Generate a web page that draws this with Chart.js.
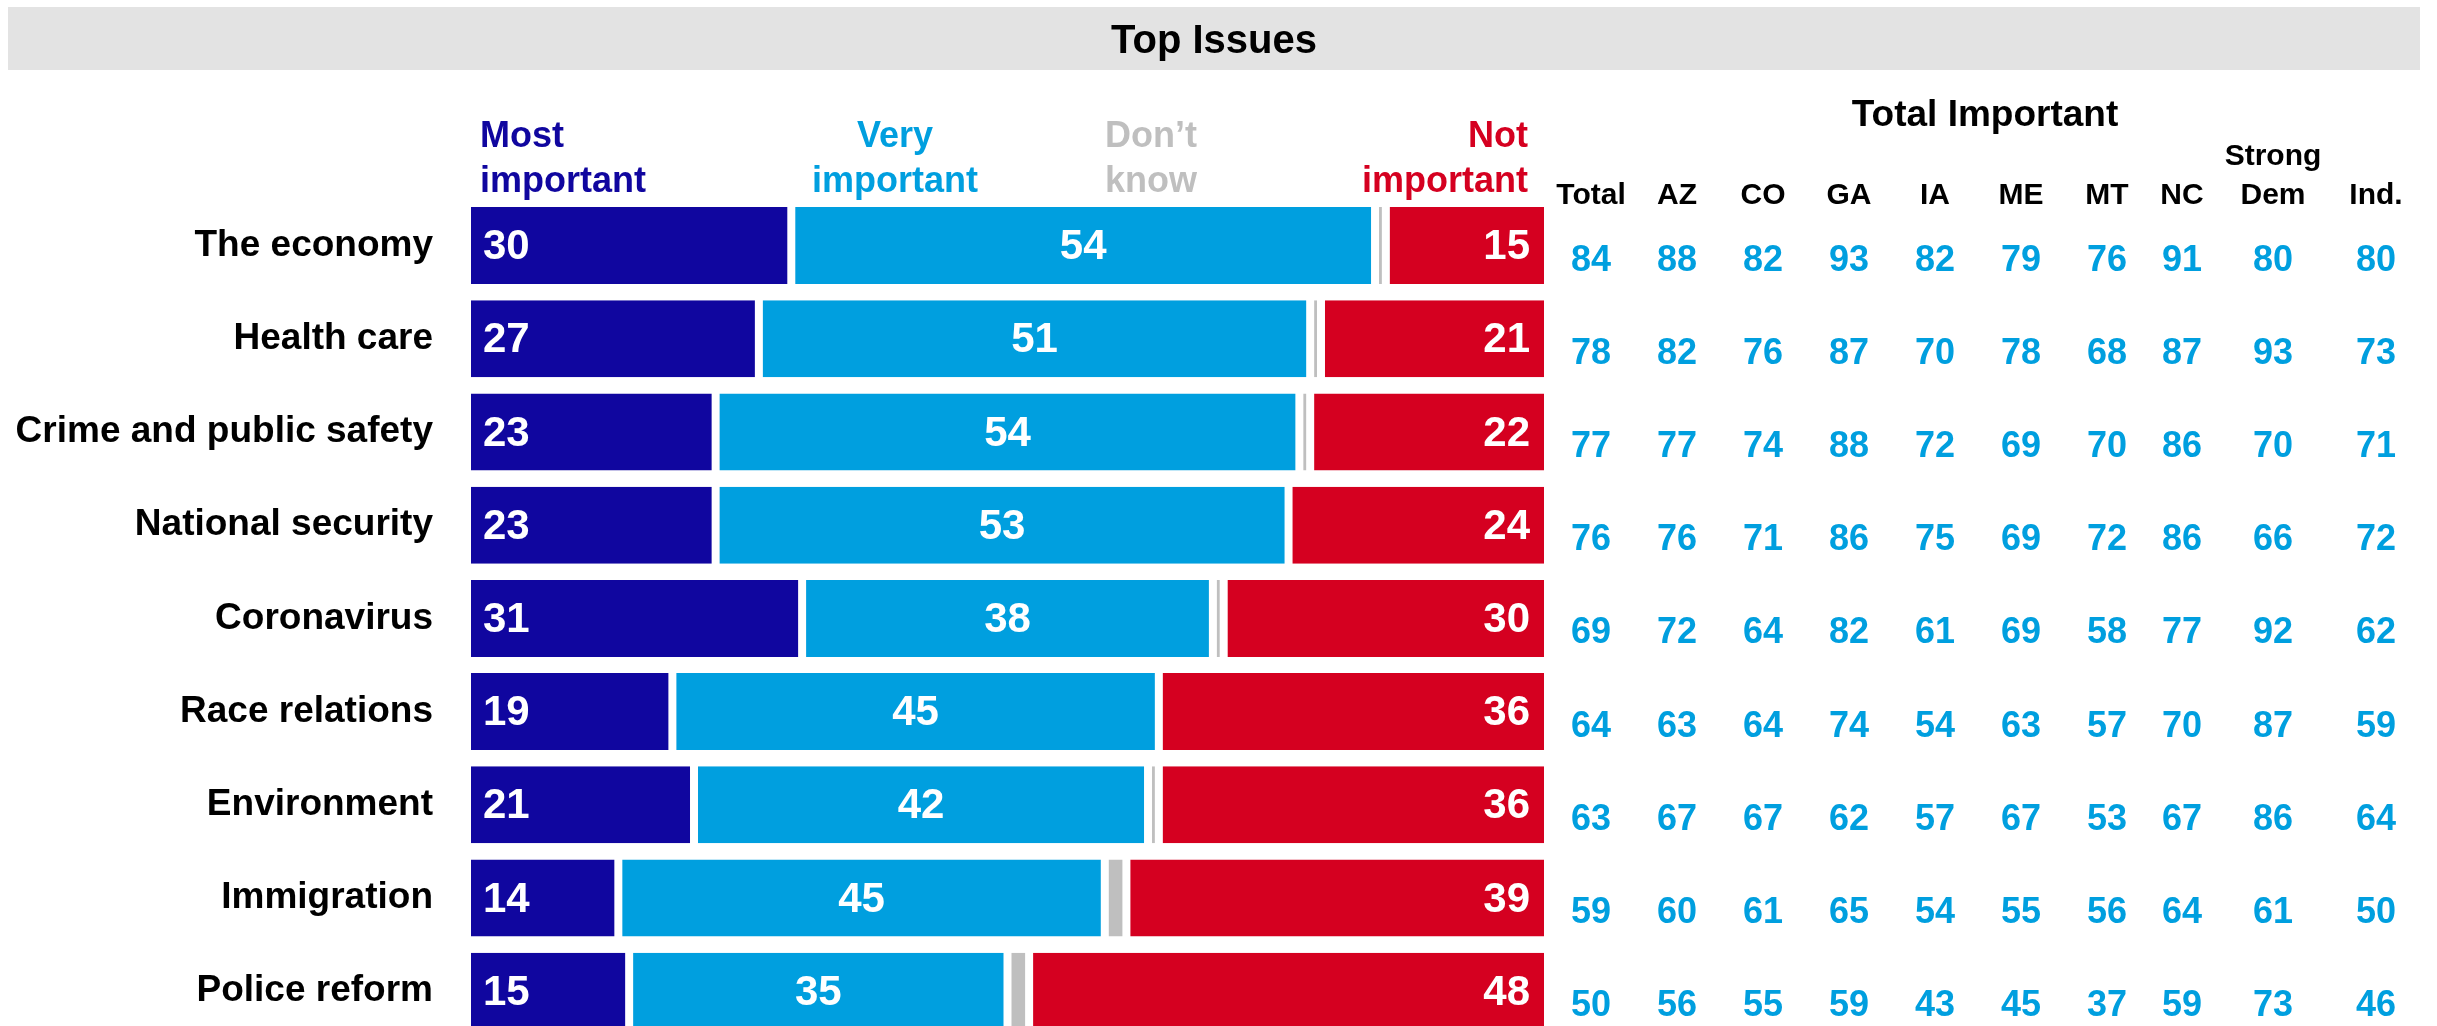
<!DOCTYPE html>
<html>
<head>
<meta charset="utf-8">
<title>Top Issues</title>
<script src="https://cdn.jsdelivr.net/npm/chart.js@4"></script>
<style>
  html, body { margin: 0; padding: 0; background: #fff; overflow: hidden; }
  #issues { display: block; }
</style>
</head>
<body>
<!-- taller than the window on purpose: the last row runs off the bottom edge -->
<canvas id="issues" width="2437" height="1094"></canvas>
<script>
/* =========================
   DATA
   ========================= */

const issues = [
  "The economy", "Health care", "Crime and public safety", "National security",
  "Coronavirus", "Race relations", "Environment", "Immigration", "Police reform"
];

const mostImportant = [30, 27, 23, 23, 31, 19, 21, 14, 15];
const veryImportant = [54, 51, 54, 53, 38, 45, 42, 45, 35];
const dontKnow      = [1, 1, 1, 0, 1, 0, 1, 2, 2];
const notImportant  = [15, 21, 22, 24, 30, 36, 36, 39, 48];

/* Total important, by state / group */
const impTotal  = [84, 78, 77, 76, 69, 64, 63, 59, 50];
const impAZ     = [88, 82, 77, 76, 72, 63, 67, 60, 56];
const impCO     = [82, 76, 74, 71, 64, 64, 67, 61, 55];
const impGA     = [93, 87, 88, 86, 82, 74, 62, 65, 59];
const impIA     = [82, 70, 72, 75, 61, 54, 57, 54, 43];
const impME     = [79, 78, 69, 69, 69, 63, 67, 55, 45];
const impMT     = [76, 68, 70, 72, 58, 57, 53, 56, 37];
const impNC     = [91, 87, 86, 86, 77, 70, 67, 64, 59];
const impStrDem = [80, 93, 70, 66, 92, 87, 86, 61, 73];
const impInd    = [80, 73, 71, 72, 62, 59, 64, 50, 46];

const tableHeads = [["Total"], ["AZ"], ["CO"], ["GA"], ["IA"], ["ME"], ["MT"], ["NC"], ["Strong", "Dem"], ["Ind."]];
const tableCols = [impTotal, impAZ, impCO, impGA, impIA, impME, impMT, impNC, impStrDem, impInd];

/* =========================
   LAYOUT / COLOURS
   ========================= */

const NAVY = "#10069F";
const BLUE = "#009FDF";
const GRAY = "#BFBFBF";
const RED  = "#D50020";
const FONT = "'Liberation Sans', Arial, sans-serif";

const colX = [1591, 1677, 1763, 1849, 1935, 2021, 2107, 2182, 2273, 2376];

function font(size) {
  return "bold " + size + "px " + FONT;
}

/* title bar, legend words, segment numbers and the right-hand table */
const overlay = {
  id: "overlay",
  afterDatasetsDraw(chart) {
    const c = chart.ctx;
    const yScale = chart.scales.y;
    c.save();

    // title bar
    c.fillStyle = "#E3E3E3";
    c.fillRect(8, 7, 2412, 63);
    c.fillStyle = "#000";
    c.font = font(40);
    c.textAlign = "center";
    c.textBaseline = "alphabetic";
    c.fillText("Top Issues", 1214, 53);

    // legend words above the bars
    c.font = font(36);
    c.textAlign = "left";
    c.fillStyle = NAVY;
    c.fillText("Most", 480, 147);
    c.fillText("important", 480, 192);
    c.textAlign = "center";
    c.fillStyle = BLUE;
    c.fillText("Very", 895, 147);
    c.fillText("important", 895, 192);
    c.fillStyle = GRAY;
    c.fillText("Don\u2019t", 1151, 147);
    c.fillText("know", 1151, 192);
    c.textAlign = "right";
    c.fillStyle = RED;
    c.fillText("Not", 1528, 147);
    c.fillText("important", 1528, 192);

    // numbers inside the bars
    c.font = font(42);
    c.fillStyle = "#fff";
    c.textBaseline = "middle";
    const most = chart.getDatasetMeta(0).data;
    const very = chart.getDatasetMeta(1).data;
    const not = chart.getDatasetMeta(3).data;
    issues.forEach((_, i) => {
      c.textAlign = "left";
      c.fillText(mostImportant[i], most[i].base + 16, most[i].y + 2);
      c.textAlign = "center";
      c.fillText(veryImportant[i], (very[i].base + very[i].x) / 2, very[i].y + 2);
      c.textAlign = "right";
      c.fillText(notImportant[i], not[i].x - 18, not[i].y + 2);
    });

    // table header
    c.fillStyle = "#000";
    c.textAlign = "center";
    c.textBaseline = "alphabetic";
    c.font = font(37);
    c.fillText("Total Important", 1985, 126);
    c.font = font(30);
    tableHeads.forEach((lines, k) => {
      lines.forEach((txt, n) => {
        c.fillText(txt, colX[k], 204 - (lines.length - 1 - n) * 39);
      });
    });

    // table values, one row per issue
    c.font = font(36);
    c.fillStyle = BLUE;
    c.textBaseline = "middle";
    tableCols.forEach((vals, k) => {
      vals.forEach((v, i) => {
        c.fillText(v, colX[k], yScale.getPixelForValue(i) + 15);
      });
    });

    c.restore();
  }
};

/* =========================
   CHART
   ========================= */

const segment = {
  borderColor: "#fff",
  borderWidth: { left: 4, right: 4, top: 0, bottom: 0 },
  borderSkipped: false,
  inflateAmount: 0,
  barPercentage: 0.826,
  categoryPercentage: 1
};

new Chart(document.getElementById("issues"), {
  type: "bar",
  data: {
    labels: issues,
    datasets: [
      { label: "Most important", data: mostImportant, backgroundColor: NAVY, ...segment },
      { label: "Very important", data: veryImportant, backgroundColor: BLUE, ...segment },
      { label: "Don't know", data: dontKnow, backgroundColor: GRAY, ...segment },
      { label: "Not important", data: notImportant, backgroundColor: RED, ...segment }
    ]
  },
  options: {
    indexAxis: "y",
    responsive: false,
    animation: false,
    devicePixelRatio: 1,
    layout: { padding: { left: 0, right: 889, top: 199, bottom: 12 } },
    plugins: { legend: { display: false }, tooltip: { enabled: false } },
    scales: {
      x: { stacked: true, min: 0, max: 100, display: false },
      y: {
        stacked: true,
        grid: { display: false, drawTicks: false },
        border: { display: false },
        ticks: { color: "#000", font: { family: FONT, size: 37, weight: "bold" }, padding: 34 },
        afterFit(scale) { scale.width = 467; }
      }
    }
  },
  plugins: [overlay]
});
</script>
</body>
</html>
